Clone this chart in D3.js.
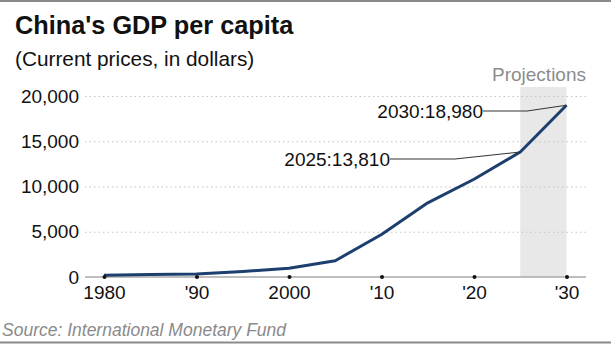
<!DOCTYPE html>
<html>
<head>
<meta charset="utf-8">
<script src="https://cdn.jsdelivr.net/npm/d3@7"></script>
<style>
  body { margin: 0; background: #fff; }
  svg { display: block; font-family: "Liberation Sans", Arial, sans-serif; }
</style>
</head>
<body>
<div id="chart"></div>
<script>
// data
var years = [1980, 1985, 1990, 1995, 2000, 2005, 2010, 2015, 2020, 2025, 2030];
var gdp = [195, 290, 320, 610, 960, 1800, 4700, 8200, 10800, 13810, 18980];
var yTicks = [0, 5000, 10000, 15000, 20000];
var xTicks = [1980, 1990, 2000, 2010, 2020, 2030];
var xTickLabels = ["1980", "'90", "2000", "'10", "'20", "'30"];
var projection = [2025, 2030];
var notes = [
	{year: 2025, value: 13810, label: "2025:13,810"},
	{year: 2030, value: 18980, label: "2030:18,980"}
];

var width = 611, height = 345;
var lineColor = "#1d3f6e";

var svg = d3.select("#chart").append("svg")
	.attr("width", width)
	.attr("height", height);

var x = d3.scaleLinear().domain([1980, 2030]).range([104, 566.5]);
var y = d3.scaleLinear().domain([0, 20000]).range([277, 96]);

// frame lines top and bottom
svg.append("line").attr("x1", 0).attr("x2", width).attr("y1", 1).attr("y2", 1)
	.attr("stroke", "#8a8a8a").attr("stroke-width", 2);
svg.append("line").attr("x1", 0).attr("x2", width).attr("y1", 342.5).attr("y2", 342.5)
	.attr("stroke", "#8a8a8a").attr("stroke-width", 2);

svg.append("text").attr("x", 15).attr("y", 34)
	.attr("font-size", 25.3).attr("font-weight", "bold").attr("fill", "#111")
	.text("China's GDP per capita");
svg.append("text").attr("x", 15).attr("y", 66)
	.attr("font-size", 20.8).attr("fill", "#111")
	.text("(Current prices, in dollars)");

// projection band
svg.append("rect")
	.attr("x", x(projection[0]))
	.attr("width", x(projection[1]) - x(projection[0]))
	.attr("y", 87)
	.attr("height", y(0) - 87)
	.attr("fill", "#e8e8e8");
svg.append("text").attr("x", 586).attr("y", 81)
	.attr("text-anchor", "end").attr("font-size", 19).attr("fill", "#8c8c8c")
	.text("Projections");

// y axis / grid
var yAxis = d3.axisLeft(y)
	.tickValues(yTicks)
	.tickSize(0)
	.tickPadding(6)
	.tickFormat(d3.format(","));
var gy = svg.append("g").attr("transform", "translate(85,0)").call(yAxis);
gy.select(".domain").remove();
gy.selectAll("text").attr("font-size", 19).attr("fill", "#111").attr("font-family", null);
gy.selectAll(".tick").filter(function(d){ return d > 0; }).append("line")
	.attr("x1", 0).attr("x2", 501)
	.attr("stroke", "#c4c4c4")
	.attr("stroke-width", 1.2)
	.attr("stroke-dasharray", "1.5,3");

// baseline
svg.append("line").attr("x1", 85).attr("x2", 586)
	.attr("y1", y(0)).attr("y2", y(0))
	.attr("stroke", "#a8a8a8").attr("stroke-width", 1.5);

// line
var line = d3.line()
	.x(function(d, i){ return x(years[i]); })
	.y(function(d){ return y(d); });
svg.append("path")
	.attr("d", line(gdp))
	.attr("fill", "none")
	.attr("stroke", lineColor)
	.attr("stroke-width", 3)
	.attr("stroke-linejoin", "round");

// x axis
var xAxis = d3.axisBottom(x)
	.tickValues(xTicks)
	.tickSize(0)
	.tickPadding(9)
	.tickFormat(function(d, i){ return xTickLabels[i]; });
var gx = svg.append("g").attr("transform", "translate(0," + y(0) + ")").call(xAxis);
gx.select(".domain").remove();
gx.selectAll("text").attr("font-size", 19).attr("fill", "#111").attr("font-family", null);
gx.selectAll(".tick").append("circle").attr("r", 2).attr("fill", "#111");

// annotations
var noteText = [{dx: 390, dy: 159, bend: 455}, {dx: 483, dy: 111, bend: 527}];
notes.forEach(function(n, i){
	var t = noteText[i];
	svg.append("path")
		.attr("d", "M" + t.dx + "," + t.dy + "H" + t.bend + "L" + x(n.year) + "," + y(n.value))
		.attr("fill", "none")
		.attr("stroke", "#333")
		.attr("stroke-width", 1);
	svg.append("text")
		.attr("x", t.dx).attr("y", t.dy + 7)
		.attr("text-anchor", "end")
		.attr("font-size", 19).attr("fill", "#111")
		.text(n.label);
});

svg.append("text").attr("x", 2).attr("y", 336)
	.attr("font-size", 17.5).attr("font-style", "italic").attr("fill", "#8a8a8a")
	.text("Source: International Monetary Fund");
</script>
</body>
</html>
